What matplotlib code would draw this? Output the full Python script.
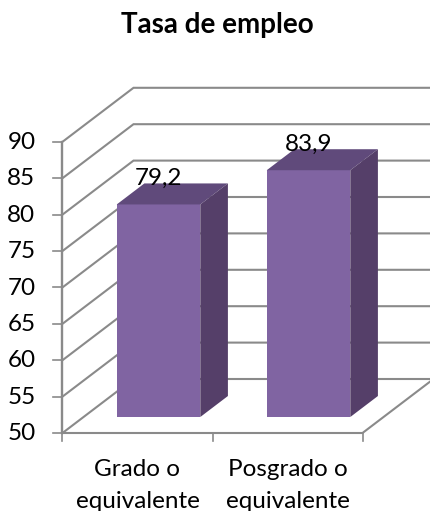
import matplotlib
matplotlib.use("Agg")
import matplotlib.pyplot as plt
from matplotlib.patches import Polygon

plt.rcParams['font.family'] = ['Lato', 'DejaVu Sans']

title = "Tasa de empleo"
categories = ["Grado o\nequivalente", "Posgrado o\nequivalente"]
values = [79.2, 83.9]
value_labels = ["79,2", "83,9"]
y_ticks = [50, 55, 60, 65, 70, 75, 80, 85, 90]

# pixels of the pseudo 3D axis box
PX_X0 = 62.5
PX_PER_CAT = 150.0
PX_Y50 = 433.0
PX_PER_UNIT = 7.28
DEPTH_X = 71.0 / PX_PER_CAT
DEPTH_Y = 54.0 / PX_PER_UNIT

GRID = '#8a8a8a'
BAR_FRONT = '#8064a2'
BAR_TOP = '#604a7b'
BAR_SIDE = '#553f69'
BAR_WIDTH = 0.557
BAR_D0 = 0.296
BAR_D1 = 0.685
FONT = 17.5


def proj(x, v, d=0.0):
    # category/value/depth to the skewed 2D position
    return x + d * DEPTH_X, v + d * DEPTH_Y


def main():
    fig = plt.figure(figsize=(4.31, 5.11), dpi=100)
    ax = fig.add_axes([0, 0, 1, 1])
    ax.set_xlim(-PX_X0 / PX_PER_CAT, (431 - PX_X0) / PX_PER_CAT)
    ax.set_ylim(50 - (511 - PX_Y50) / PX_PER_UNIT, 50 + PX_Y50 / PX_PER_UNIT)
    ax.axis('off')

    # grid on the left wall and back wall
    for v in y_ticks:
        pts = [proj(0, v), proj(0, v, 1), proj(2.1, v, 1)]
        ax.plot(*zip(*pts), color=GRID, lw=1.5, solid_joinstyle='miter', zorder=1)

    # floor and axes
    floor = [proj(0, 50), proj(2, 50), proj(2, 50, 1)]
    ax.plot(*zip(*floor), color=GRID, lw=1.5, zorder=1)
    ax.plot([0, 0], [50, y_ticks[-1]], color=GRID, lw=1.7, zorder=2)
    for v in y_ticks:
        ax.plot([-9 / PX_PER_CAT, 0], [v, v], color=GRID, lw=1.2, zorder=2)
        ax.text(-27 / PX_PER_CAT, v - 0.1, str(v), ha='right', va='center',
                fontsize=FONT, color='black')
    for x in range(len(categories) + 1):
        ax.plot([x, x], [50, 50 - 8 / PX_PER_UNIT], color=GRID, lw=1.2, zorder=2)

    # bars
    for i, (val, lab) in enumerate(zip(values, value_labels)):
        x0 = i + 0.5 - BAR_WIDTH / 2
        x1 = i + 0.5 + BAR_WIDTH / 2
        front = [proj(x0, 50, BAR_D0), proj(x1, 50, BAR_D0), proj(x1, val, BAR_D0), proj(x0, val, BAR_D0)]
        top = [proj(x0, val, BAR_D0), proj(x1, val, BAR_D0), proj(x1, val, BAR_D1), proj(x0, val, BAR_D1)]
        side = [proj(x1, 50, BAR_D0), proj(x1, 50, BAR_D1), proj(x1, val, BAR_D1), proj(x1, val, BAR_D0)]
        ax.add_patch(Polygon(front, closed=True, fc=BAR_FRONT, ec='none', zorder=3))
        ax.add_patch(Polygon(top, closed=True, fc=BAR_TOP, ec='none', zorder=3))
        ax.add_patch(Polygon(side, closed=True, fc=BAR_SIDE, ec='none', zorder=3))
        lx, ly = proj(i + 0.5, val + 3.6, BAR_D0)
        ax.text(lx, ly, lab, ha='center', va='center', fontsize=FONT, color='black', zorder=4)

    for i, cat in enumerate(categories):
        ax.annotate(cat, xy=(i + 0.5, 50), xytext=(0, -18.5), textcoords='offset points',
                    ha='center', va='top', fontsize=FONT, linespacing=1.65, color='black',
                    annotation_clip=False)

    fig.text(217 / 431, 1 - 25 / 511, title, ha='center', va='center',
             fontsize=20, fontweight='bold', color='black')

    fig.savefig("out.png", dpi=100)


if __name__ == "__main__":
    main()
